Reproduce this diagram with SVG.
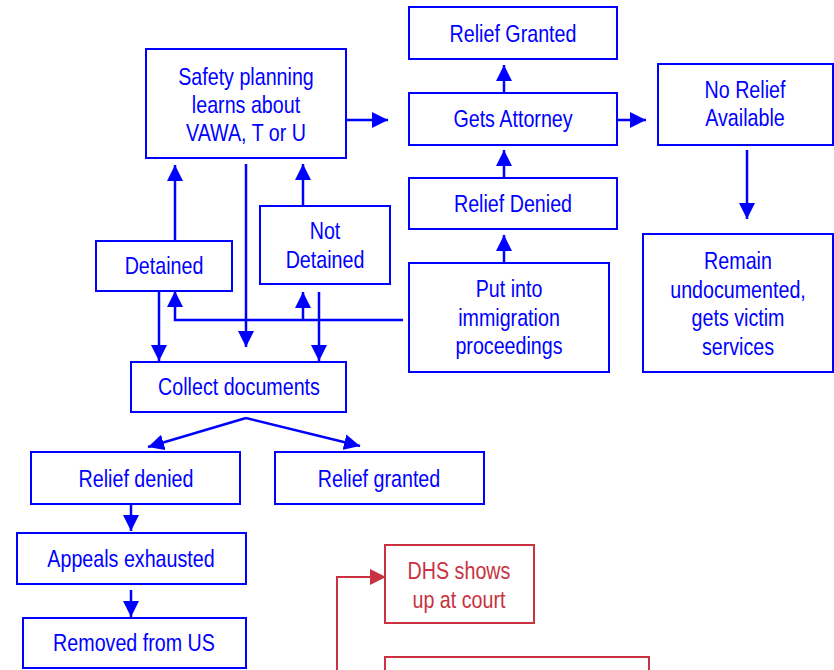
<svg xmlns="http://www.w3.org/2000/svg" width="834" height="670" viewBox="0 0 834 670">
<defs>
<marker id="ab" viewBox="0 0 10 10" refX="10" refY="5" markerWidth="6.4" markerHeight="6.4" orient="auto" markerUnits="strokeWidth"><path d="M0,0 L10,5 L0,10 z" fill="#0000ff"/></marker>
<style>
.b rect{fill:#fff;stroke:#0000ff;stroke-width:2}
.b text{fill:#0000ff}
.r rect{fill:#fff;stroke:#c83241;stroke-width:2}
.r text{fill:#c83241}
text{font-family:"Liberation Sans",Arial,sans-serif;font-size:24px;text-anchor:middle;dominant-baseline:central}
.c path{fill:none;stroke:#0000ff;stroke-width:2.5}
.c path.a{marker-end:url(#ab)}
.rc .ln{fill:none;stroke:#c83241;stroke-width:2}
.rc .hd{fill:#c83241;stroke:none}
</style>
</defs>
<rect width="834" height="670" fill="#fff"/>
<g class="c">
<path class="a" d="M346,120 H388"/>
<path class="a" d="M504,93 V65"/>
<path class="a" d="M504,178 V150"/>
<path class="a" d="M504,263 V235"/>
<path class="a" d="M617,120 H646"/>
<path class="a" d="M747,150 V219"/>
<path class="a" d="M175,240 V165"/>
<path class="a" d="M303,206 V164"/>
<path class="a" d="M246,164 V347"/>
<path class="a" d="M159,291 V361"/>
<path class="a" d="M319,292 V361"/>
<path class="a" d="M403,320 H175 V291"/>
<path class="a" d="M303,320 V292"/>
<path class="a" d="M246,418 L148,447"/>
<path class="a" d="M246,418 L360,446"/>
<path class="a" d="M131,504 V531"/>
<path class="a" d="M131,590 V617"/>
</g>
<g class="rc">
<path class="ln" d="M337,670 V577 H372"/>
<path class="hd" d="M370,569 L386,577 L370,585 z"/>
</g>
<g id="safety" class="b"><rect x="146" y="49" width="200" height="109"/><g transform="translate(246 0) scale(0.82 1)"><text x="0" y="77">Safety planning</text><text x="0" y="105">learns about</text><text x="0" y="133">VAWA, T or U</text></g></g>
<g id="relief-granted-top" class="b"><rect x="409" y="7" width="208" height="52"/><g transform="translate(513 0) scale(0.82 1)"><text x="0" y="34">Relief Granted</text></g></g>
<g id="gets-attorney" class="b"><rect x="409" y="93" width="208" height="52"/><g transform="translate(513 0) scale(0.82 1)"><text x="0" y="119">Gets Attorney</text></g></g>
<g id="relief-denied-top" class="b"><rect x="409" y="178" width="208" height="51"/><g transform="translate(513 0) scale(0.82 1)"><text x="0" y="204">Relief Denied</text></g></g>
<g id="put-into" class="b"><rect x="409" y="263" width="200" height="109"/><g transform="translate(509 0) scale(0.82 1)"><text x="0" y="289">Put into</text><text x="0" y="318">immigration</text><text x="0" y="346">proceedings</text></g></g>
<g id="no-relief" class="b"><rect x="658" y="64" width="175" height="81"/><g transform="translate(745 0) scale(0.82 1)"><text x="0" y="90">No Relief</text><text x="0" y="118">Available</text></g></g>
<g id="remain" class="b"><rect x="643" y="234" width="190" height="138"/><g transform="translate(738 0) scale(0.82 1)"><text x="0" y="261">Remain</text><text x="0" y="290">undocumented,</text><text x="0" y="318">gets victim</text><text x="0" y="347">services</text></g></g>
<g id="detained" class="b"><rect x="96" y="241" width="136" height="50"/><g transform="translate(164 0) scale(0.82 1)"><text x="0" y="266">Detained</text></g></g>
<g id="not-detained" class="b"><rect x="260" y="206" width="130" height="78"/><g transform="translate(325 0) scale(0.82 1)"><text x="0" y="231">Not</text><text x="0" y="260">Detained</text></g></g>
<g id="collect" class="b"><rect x="131" y="362" width="215" height="50"/><g transform="translate(239 0) scale(0.82 1)"><text x="0" y="387">Collect documents</text></g></g>
<g id="relief-denied" class="b"><rect x="31" y="452" width="209" height="52"/><g transform="translate(136 0) scale(0.82 1)"><text x="0" y="479">Relief denied</text></g></g>
<g id="relief-granted" class="b"><rect x="275" y="452" width="209" height="52"/><g transform="translate(379 0) scale(0.82 1)"><text x="0" y="479">Relief granted</text></g></g>
<g id="appeals" class="b"><rect x="17" y="533" width="229" height="51"/><g transform="translate(131 0) scale(0.82 1)"><text x="0" y="559">Appeals exhausted</text></g></g>
<g id="removed" class="b"><rect x="23" y="618" width="223" height="50"/><g transform="translate(134 0) scale(0.82 1)"><text x="0" y="643">Removed from US</text></g></g>
<g id="dhs" class="r"><rect x="385" y="545" width="149" height="78"/><g transform="translate(459 0) scale(0.82 1)"><text x="0" y="571">DHS shows</text><text x="0" y="600">up at court</text></g></g>
<g id="red-bottom" class="r"><rect x="385" y="657" width="264" height="30"/></g>
</svg>
